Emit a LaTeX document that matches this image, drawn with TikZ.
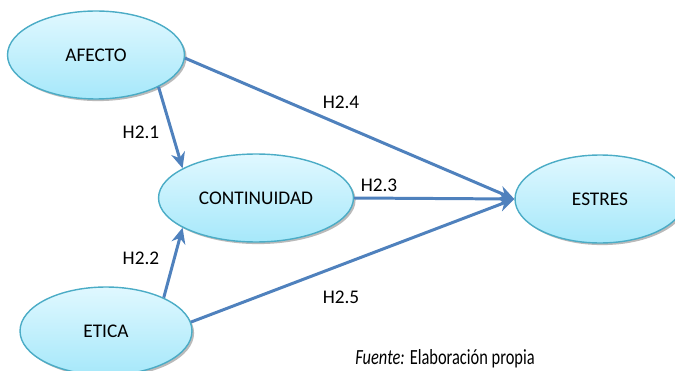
\documentclass[tikz,border=0pt]{standalone}
\usepackage{fontspec}
\setmainfont{Carlito}
\newfontfamily\fuentefont[FakeStretch=0.76]{Carlito}
\usepackage{tikz}
\usepackage{xcolor}
\usetikzlibrary{positioning,arrows.meta,shapes.geometric,shadows}
\definecolor{arrowblue}{RGB}{79,129,189}
\definecolor{rimblue}{RGB}{75,172,198}
\definecolor{topcyan}{RGB}{224,248,255}
\definecolor{botcyan}{RGB}{166,232,250}
\tikzset{
  construct/.style={ellipse, draw=rimblue, line width=0.8pt, top color=topcyan, bottom color=botcyan,
    minimum width=#1, minimum height=1.76cm, inner sep=0pt, font=\fontsize{11}{13}\selectfont,
    drop shadow={shadow xshift=1.2pt, shadow yshift=-1.2pt, fill=black!45, opacity=0.6}},
  hyp/.style={draw=arrowblue, line width=1.7pt, -{Stealth[length=9pt,width=8pt]}},
  hlabel/.style={font=\fontsize{11}{13}\selectfont}
}

\begin{document}
\begin{tikzpicture}[x=0.02cm, y=-0.02cm]
        \useasboundingbox (0,0) rectangle (675,371);

        \node[construct=3.54cm] (afecto) at (96, 55) {AFECTO};
        \node[construct=3.9cm] (cont) at (256, 198) {CONTINUIDAD};
        \node[construct=3.44cm] (etica) at (106, 331) {ETICA};
        \node[construct=3.4cm] (estres) at (600, 199) {ESTRES};

        % Hypotheses
        \draw[hyp] (afecto.-27) -- (cont.158);
        \draw[hyp] (etica.30) -- (cont.-158);
        \draw[hyp] (afecto.-2) -- (estres.west);
        \draw[hyp] (cont.east) -- (estres.west);
        \draw[hyp] (etica.6) -- (estres.west);

        \node[hlabel] (h21) at (141, 132) {H2.1};
        \node[hlabel] (h22) at (141, 258) {H2.2};
        \node[hlabel] (h23) at (379, 185) {H2.3};
        \node[hlabel] (h24) at (341, 102) {H2.4};
        \node[hlabel] (h25) at (341, 297) {H2.5};

        \node[anchor=base west, inner sep=0pt, font=\fuentefont\fontsize{12.3}{14}\selectfont] (fuente) at (355, 364) {\textit{Fuente:} Elaboración propia};
    \end{tikzpicture}
\end{document}
